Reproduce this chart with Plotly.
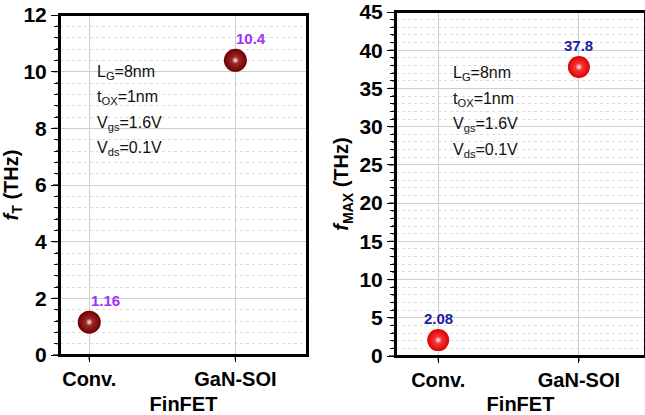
import plotly.graph_objects as go

categories = ["Conv.", "GaN-SOI"]
ft_values = [1.16, 10.4]
fmax_values = [2.08, 37.8]
ft_labels = ["1.16", "10.4"]
fmax_labels = ["2.08", "37.8"]
params = ["L<sub>G</sub>=8nm", "t<sub>OX</sub>=1nm", "V<sub>gs</sub>=1.6V", "V<sub>ds</sub>=0.1V"]

FONT = "Arial, Liberation Sans, sans-serif"
W, H = 645, 415
xpos = list(range(len(categories)))

L_XDOM = [60 / W, 307 / W]
L_YDOM = [1 - 355 / H, 1 - 15 / H]
R_XDOM = [396 / W, 1.0]
R_YDOM = [1 - 356 / H, 1 - 12 / H]
L_XR, R_XR = [-0.2, 1.49], [-0.3, 1.47]
L_YR, R_YR = [0, 12], [0, 45]

fig = go.Figure()

# invisible traces that carry the grid subplots (x/y and x2/y2)
fig.add_trace(go.Scatter(x=xpos, y=ft_values, mode="markers", xaxis="x", yaxis="y",
                         marker=dict(opacity=0), hoverinfo="skip", showlegend=False))
fig.add_trace(go.Scatter(x=xpos, y=fmax_values, mode="markers", xaxis="x2", yaxis="y2",
                         marker=dict(opacity=0), hoverinfo="skip", showlegend=False))

# left: fT (x3/y3)
fig.add_trace(go.Scatter(x=xpos, y=ft_values, mode="markers", xaxis="x3", yaxis="y3",
                         marker=dict(size=23, color="#6a0000",
                                     gradient=dict(type="radial", color="#b83a3a"),
                                     line=dict(width=0)), showlegend=False))
fig.add_trace(go.Scatter(x=xpos, y=ft_values, mode="markers", xaxis="x3", yaxis="y3",
                         marker=dict(size=7, color="rgba(255,255,255,0)",
                                     gradient=dict(type="radial", color="rgba(255,240,240,0.95)"),
                                     line=dict(width=0)), showlegend=False))
# right: fMAX (x4/y4)
fig.add_trace(go.Scatter(x=xpos, y=fmax_values, mode="markers", xaxis="x4", yaxis="y4",
                         marker=dict(size=22, color="#e00000",
                                     gradient=dict(type="radial", color="#ff5050"),
                                     line=dict(width=0)), showlegend=False))
fig.add_trace(go.Scatter(x=xpos, y=fmax_values, mode="markers", xaxis="x4", yaxis="y4",
                         marker=dict(size=7, color="rgba(255,255,255,0)",
                                     gradient=dict(type="radial", color="rgba(255,255,255,0.95)"),
                                     line=dict(width=0)), showlegend=False))

annotations = []
for xi, v, t in zip(xpos, ft_values, ft_labels):
    annotations.append(dict(x=xi, y=v, xref="x3", yref="y3", text="<b>%s</b>" % t, showarrow=False,
                            xshift=16, yshift=22, font=dict(family=FONT, size=15, color="#9b30ff")))
for xi, v, t in zip(xpos, fmax_values, fmax_labels):
    annotations.append(dict(x=xi, y=v, xref="x4", yref="y4", text="<b>%s</b>" % t, showarrow=False,
                            xshift=0, yshift=22, font=dict(family=FONT, size=15, color="#1c1ca8")))

left_y = [72, 97, 123, 148]
right_y = [74, 99, 125, 150]
for i, p in enumerate(params):
    annotations.append(dict(x=95 / W, y=1 - left_y[i] / H, xref="paper", yref="paper", text=p,
                            showarrow=False, xanchor="left", yanchor="middle",
                            font=dict(family=FONT, size=16, color="#111")))
    annotations.append(dict(x=451 / W, y=1 - right_y[i] / H, xref="paper", yref="paper", text=p,
                            showarrow=False, xanchor="left", yanchor="middle",
                            font=dict(family=FONT, size=16, color="#111")))

xtickfont = dict(family=FONT, size=20, color="black", weight="bold")
ytickfont = dict(family=FONT, size=21, color="black", weight="bold")
titlefont = dict(family=FONT, size=20, color="black", weight="bold")


def grid_x(domain, rng, anchor):
    return dict(domain=domain, range=rng, anchor=anchor, tickmode="array", tickvals=xpos,
                showticklabels=False, ticks="", showline=False, zeroline=False,
                showgrid=True, gridcolor="#cfcfcf", gridwidth=1, automargin=False)


def grid_y(domain, rng, dtick, mdt, anchor):
    return dict(domain=domain, range=rng, anchor=anchor, dtick=dtick, tick0=0,
                showticklabels=False, ticks="", showline=False, zeroline=False,
                showgrid=True, gridcolor="#d0d0d0", gridwidth=1, automargin=False,
                minor=dict(dtick=mdt, ticks="", showgrid=True, gridcolor="#dcdcdc",
                           griddash="dot", gridwidth=1))


def data_x(domain, rng, anchor):
    return dict(domain=domain, range=rng, anchor=anchor, tickmode="array", tickvals=xpos,
                ticktext=categories, tickfont=xtickfont, automargin=False,
                showline=True, linecolor="black", linewidth=2, mirror=True,
                ticks="outside", ticklen=5, tickcolor="black", showgrid=False,
                zerolinecolor="rgba(0,0,0,0)",
                title=dict(text="FinFET", font=titlefont, standoff=8))


def data_y(domain, rng, dtick, mdt, title, anchor):
    return dict(domain=domain, range=rng, anchor=anchor, dtick=dtick, tick0=0,
                tickfont=ytickfont, automargin=False,
                showline=True, linecolor="black", linewidth=2, mirror=True,
                ticks="outside", ticklen=7, tickcolor="black", showgrid=False,
                zerolinecolor="rgba(0,0,0,0)",
                minor=dict(dtick=mdt, ticks="outside", ticklen=4, tickcolor="black", showgrid=False),
                title=dict(text=title, font=titlefont, standoff=5))


# frame and tick marks drawn as shapes relative to the axes (robust rendering)
shapes = []


def frame_and_ticks(xa, ya, yrange, dtick, mdt):
    shapes.append(dict(type="rect", xref=xa + " domain", yref=ya + " domain", x0=0, x1=1, y0=0, y1=1,
                       line=dict(color="black", width=2), fillcolor="rgba(0,0,0,0)", layer="above"))
    ratio = int(round(dtick / mdt))
    n = int(round((yrange[1] - yrange[0]) / mdt))
    for k in range(n + 1):
        v = yrange[0] + k * mdt
        length = 7 if k % ratio == 0 else 4
        shapes.append(dict(type="line", xref=xa + " domain", yref=ya, xsizemode="pixel", xanchor=0,
                           x0=-length, x1=0, y0=v, y1=v, line=dict(color="black", width=1.2),
                           layer="above"))
    for xi in xpos:
        shapes.append(dict(type="line", xref=xa, yref=ya + " domain", ysizemode="pixel", yanchor=0,
                           x0=xi, x1=xi, y0=-5, y1=0, line=dict(color="black", width=1.2),
                           layer="above"))


frame_and_ticks("x3", "y3", L_YR, 2, 0.4)
frame_and_ticks("x4", "y4", R_YR, 5, 1)

fig.update_layout(
    width=W, height=H,
    margin=dict(l=0, r=0, t=0, b=0),
    paper_bgcolor="white", plot_bgcolor="rgba(0,0,0,0)",
    xaxis=grid_x(L_XDOM, L_XR, "y"),
    yaxis=grid_y(L_YDOM, L_YR, 2, 0.4, "x"),
    xaxis2=grid_x(R_XDOM, R_XR, "y2"),
    yaxis2=grid_y(R_YDOM, R_YR, 5, 1, "x2"),
    xaxis3=data_x(L_XDOM, L_XR, "y3"),
    yaxis3=data_y(L_YDOM, L_YR, 2, 0.4, "<i>f</i><sub>T</sub> (THz)", "x3"),
    xaxis4=data_x(R_XDOM, R_XR, "y4"),
    yaxis4=data_y(R_YDOM, R_YR, 5, 1, "<i>f</i><sub>MAX</sub> (THz)", "x4"),
    annotations=annotations,
    shapes=shapes,
)

fig.write_html("out.html", config={"displayModeBar": False},
               post_script="document.body.style.margin='0px';")
